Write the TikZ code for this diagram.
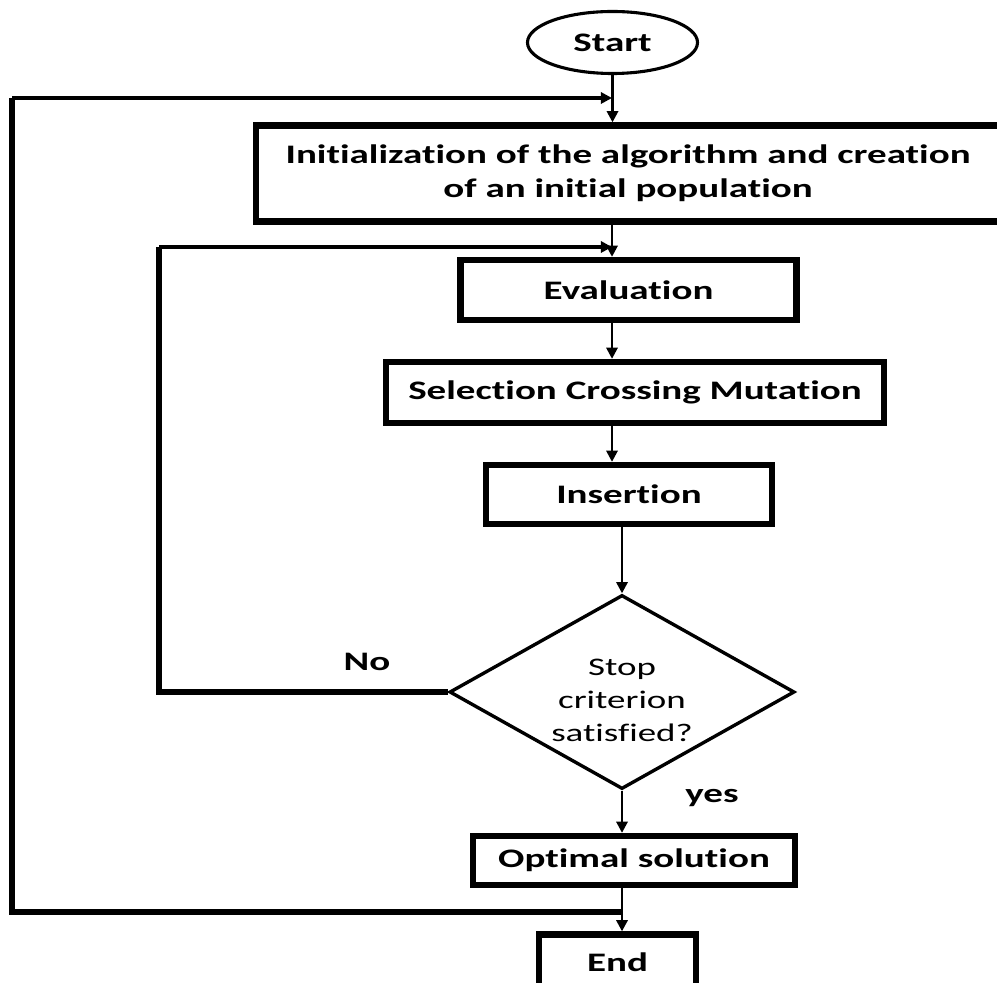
\documentclass[tikz,border=0pt]{standalone}
\usepackage{fontspec}
\setmainfont{Carlito}[FakeStretch=1.46,Ligatures=NoCommon]
\usetikzlibrary{shapes.geometric,arrows.meta}

\begin{document}
\begin{tikzpicture}[x=0.025cm,y=-0.025cm,
	box/.style={draw,line width=4.5pt,inner sep=0pt,align=center,font=\fontsize{19}{24}\selectfont\bfseries},
	pfeil/.style={-{Triangle[length=8pt,width=8pt]},line width=1.8pt},
	schleife/.style={line width=4.3pt},
	lbl/.style={font=\fontsize{19}{24}\selectfont\bfseries}]
	\useasboundingbox (0,0) rectangle (997,983);%Rahmen
	\node[draw,ellipse,line width=2.2pt,minimum width=4.25cm,minimum height=1.55cm,inner sep=0pt,lbl] (start) at (612.5,42.5) {Start};%Start
	\node[box,minimum width=18.6cm,minimum height=2.4cm] (init) at (628,173.5) {Initialization of the algorithm and creation\\of an initial population};
	\node[box,minimum width=8.4cm,minimum height=1.5cm] (eval) at (628.5,290) {Evaluation};
	\node[box,minimum width=12.45cm,minimum height=1.525cm] (sel) at (635,392.5) {Selection Crossing Mutation};
	\node[box,minimum width=7.15cm,minimum height=1.475cm] (ins) at (629,494.5) {Insertion};
	\node[draw,diamond,line width=2.4pt,minimum width=8.625cm,minimum height=4.85cm,inner sep=0pt] (crit) at (622,692) {};%Raute
	\node[align=center,font=\fontsize{18}{23.5}\selectfont] (frage) at (622,700) {Stop\\criterion\\satisfied?};%Abbruchkriterium
	\node[box,minimum width=8.05cm,minimum height=1.225cm] (opt) at (634,860.5) {Optimal solution};
	\node[box,minimum width=3.925cm,minimum height=1.375cm] (end) at (617.5,962) {End};
	\node[lbl] (nein) at (367,662) {No};
	\node[lbl] (ja) at (712,798) {yes};
	\coordinate (spalte) at (612,0);%Achse der oberen Pfeile
	\coordinate (aussenOben) at (12,98);%aeussere Schleife
	\coordinate (aussenRechts) at (612,98);
	\coordinate (aussenUnten) at (623,912);
	\coordinate (innenOben) at (159,247);%innere Schleife
	\coordinate (innenRechts) at (612,247);
	\draw[pfeil] (start) -- (start |- init.north);
	\draw[pfeil] (init.south -| spalte) -- (eval.north -| spalte);
	\draw[pfeil] (eval.south -| spalte) -- (sel.north -| spalte);
	\draw[pfeil] (sel.south -| spalte) -- (ins.north -| spalte);
	\draw[pfeil] (ins.south -| crit) -- (crit.north);
	\draw[pfeil] (crit.south) -- (crit.south |- opt.north);
	\draw[pfeil] (opt.south -| crit) -- (end.north -| crit);
	\draw[schleife] (crit.west) -| (innenOben);%Nein-Zweig
	\draw[pfeil,line width=2.8pt] (innenOben) -- (innenRechts);
	\draw[schleife] (aussenUnten) -| (aussenOben);%zurueck zum Anfang
	\draw[pfeil,line width=2.8pt] (aussenOben) -- (aussenRechts);
\end{tikzpicture}
\end{document}
